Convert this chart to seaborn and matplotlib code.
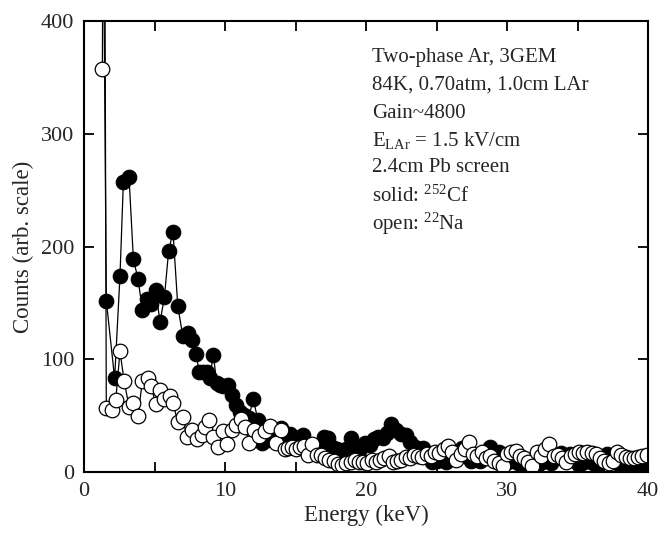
import matplotlib
matplotlib.use('Agg')
import matplotlib.pyplot as plt
import seaborn as sns
from matplotlib.ticker import MultipleLocator

# 252Cf spectrum (solid markers)
cf_energy = [1.25, 1.58, 2.17, 2.55, 2.79, 3.19, 3.50, 3.83, 4.14, 4.49, 4.77, 5.08, 5.39, 5.70,
             6.00, 6.31, 6.65, 7.00, 7.35, 7.68, 7.92, 8.18, 8.45, 8.70, 8.90, 9.17, 9.41, 9.65,
             9.88, 10.19, 10.47, 10.78, 11.07, 11.37, 11.68, 12.00, 12.33, 12.65, 13.00, 13.35,
             13.65, 13.95, 14.30, 14.60, 14.95, 15.30, 15.55, 15.90, 16.25, 16.60, 17.00, 17.30,
             17.60, 17.95, 18.30, 18.60, 18.90, 19.25, 19.55, 19.90, 20.25, 20.55, 20.85, 21.20,
             21.50, 21.80, 22.10, 22.45, 22.80, 23.10, 23.45, 23.75, 24.06, 24.40, 24.70, 25.00,
             25.35, 25.70, 26.00, 26.40, 26.80, 27.10, 27.45, 27.80, 28.10, 28.45, 28.80, 29.10,
             29.45, 29.80, 30.10, 30.45, 30.80, 31.10, 31.45, 31.80, 32.10, 32.45, 32.80, 33.10,
             33.45, 33.80, 34.10, 34.45, 34.80, 35.10, 35.45, 35.80, 36.10, 36.45, 36.80, 37.10,
             37.45, 37.80, 38.10, 38.45, 38.80, 39.10, 39.45, 39.80]
cf_counts = [700, 152, 83, 174, 257, 262, 189, 171, 144, 153, 149, 161, 133, 155,
             196, 213, 147, 121, 123, 117, 105, 89, 89, 89, 83, 104, 79, 77,
             76, 77, 68, 59, 53, 51, 48, 65, 46, 26, 28, 30,
             34, 39, 30, 34, 28, 31, 33, 25, 22, 21, 31, 30,
             22, 20, 19, 20, 30, 21, 20, 26, 24, 29, 31, 30,
             35, 43, 37, 34, 33, 27, 22, 19, 21, 14, 9, 10,
             12, 9, 12, 16, 21, 14, 10, 12, 10, 14, 22, 14,
             18, 12, 9, 13, 8, 6, 10, 7, 5, 9, 12, 8,
             15, 17, 12, 16, 10, 6, 9, 14, 8, 5, 10, 16,
             13, 8, 5, 9, 6, 4, 8, 5]

# 22Na spectrum (open markers)
na_energy = [1.30, 1.42, 1.58, 2.00, 2.25, 2.55, 2.84, 3.19, 3.50, 3.83, 4.14, 4.54, 4.77, 5.08,
             5.39, 5.67, 6.10, 6.33, 6.64, 7.00, 7.28, 7.63, 7.99, 8.35, 8.58, 8.87, 9.17, 9.53,
             9.83, 10.12, 10.47, 10.78, 11.13, 11.40, 11.73, 12.06, 12.43, 12.84, 13.19, 13.62,
             13.95, 14.26, 14.50, 14.73, 15.00, 15.30, 15.60, 15.90, 16.20, 16.50, 16.80, 17.10,
             17.40, 17.70, 18.00, 18.30, 18.60, 18.90, 19.20, 19.50, 19.80, 20.10, 20.40, 20.70,
             21.00, 21.30, 21.60, 21.90, 22.20, 22.50, 22.80, 23.10, 23.40, 23.70, 24.00, 24.30,
             24.60, 24.90, 25.20, 25.50, 25.80, 26.10, 26.40, 26.70, 27.00, 27.30, 27.60, 27.90,
             28.20, 28.50, 28.80, 29.10, 29.40, 29.70, 30.00, 30.30, 30.60, 30.90, 31.20, 31.50,
             31.80, 32.10, 32.40, 32.70, 33.00, 33.30, 33.60, 33.90, 34.20, 34.50, 34.80, 35.10,
             35.40, 35.70, 36.00, 36.30, 36.60, 36.90, 37.20, 37.50, 37.80, 38.10, 38.40, 38.70,
             39.00, 39.30, 39.60, 39.90]
na_counts = [357, 700, 57, 55, 64, 107, 81, 58, 61, 50, 81, 83, 76, 60,
             73, 65, 67, 61, 44, 49, 31, 37, 29, 33, 40, 46, 31, 22,
             36, 25, 37, 42, 47, 40, 26, 37, 32, 36, 41, 26,
             37, 20, 21, 22, 20, 22, 23, 15, 25, 15, 15, 12,
             11, 10, 7, 6, 8, 9, 11, 9, 9, 8, 11, 9,
             11, 12, 14, 9, 10, 11, 13, 12, 15, 14, 13, 16,
             14, 18, 17, 20, 23, 18, 11, 16, 20, 27, 16, 14,
             18, 12, 14, 10, 8, 5, 16, 18, 19, 14, 12, 9,
             5, 18, 14, 20, 25, 14, 15, 12, 9, 14, 16, 18,
             17, 18, 17, 16, 12, 10, 8, 10, 18, 15, 13, 12,
             12, 13, 14, 15]

info_lines = ['Two-phase Ar, 3GEM',
              '84K, 0.70atm, 1.0cm LAr',
              'Gain~4800',
              r'E$_{\mathrm{LAr}}$ = 1.5 kV/cm',
              '2.4cm Pb screen',
              r'solid: $^{252}$Cf',
              r'open: $^{22}$Na']

sns.set_theme(style='ticks')
plt.rcParams['font.family'] = ['Liberation Serif', 'DejaVu Serif']
plt.rcParams['mathtext.fontset'] = 'custom'
plt.rcParams['mathtext.rm'] = 'Liberation Serif'
plt.rcParams['mathtext.it'] = 'Liberation Serif:italic'

fig = plt.figure(figsize=(6.58, 5.36), dpi=100)
ax = fig.add_axes([0.1277, 0.1194, 0.8572, 0.8414])

# solid first, open circles are drawn over it
sns.lineplot(x=cf_energy, y=cf_counts, ax=ax, sort=False, estimator=None,
             color='black', linewidth=0.9, marker='o', markersize=10.5,
             markerfacecolor='black', markeredgecolor='black', markeredgewidth=0.8)
sns.lineplot(x=na_energy, y=na_counts, ax=ax, sort=False, estimator=None,
             color='black', linewidth=0.9, marker='o', markersize=10.5,
             markerfacecolor='white', markeredgecolor='black', markeredgewidth=0.9)

ax.set_xlim(0, 40)
ax.set_ylim(0, 400)
ax.xaxis.set_major_locator(MultipleLocator(10))
ax.xaxis.set_minor_locator(MultipleLocator(5))
ax.yaxis.set_major_locator(MultipleLocator(100))
ax.tick_params(which='both', direction='in', top=True, right=True,
               length=7, width=1.3, labelsize=16, pad=7, color='black')
for s in ax.spines.values():
    s.set_linewidth(1.5)
    s.set_color('black')

ax.set_xlabel('Energy (keV)', fontsize=16.5, labelpad=3)
ax.set_ylabel('Counts (arb. scale)', fontsize=16.5, labelpad=5)

line_y = [0.920, 0.858, 0.796, 0.736, 0.676, 0.612, 0.550]
for txt, yy in zip(info_lines, line_y):
    ax.text(0.51, yy, txt, transform=ax.transAxes, fontsize=15, va='center', ha='left')

plt.savefig('out.png', dpi=100)
